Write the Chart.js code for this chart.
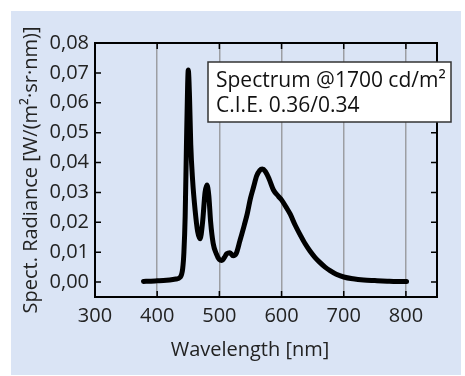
<!DOCTYPE html>
<html>
<head>
<meta charset="utf-8">
<script src="https://cdn.jsdelivr.net/npm/chart.js@4/dist/chart.umd.min.js"></script>
<style>
  html, body { margin: 0; padding: 0; background: #fff; }
  #wrap { width: 465px; height: 376px; }
</style>
</head>
<body>
<div id="wrap"><canvas id="spectrum"></canvas></div>
<script>
// wavelength [nm] and spectral radiance [W/(m²·sr·nm)]
const wavelengths = [378, 390, 400, 410, 420, 430, 437, 441, 443, 445, 447, 449, 450, 452, 454, 457, 461, 465, 469,
  473, 477, 480, 483, 486, 490, 495, 500, 504, 508, 512, 517, 522, 527, 533, 540, 545, 550, 555, 560, 565, 569,
  574, 580, 587, 595, 600, 607, 614, 622, 630, 638, 646, 654, 662, 670, 678, 688, 700, 715, 732, 750, 770, 785, 801];
const radiance = [0.0002, 0.0003, 0.0004, 0.0005, 0.0007, 0.0010, 0.0016, 0.0045, 0.010, 0.022, 0.045, 0.066, 0.071, 0.062, 0.046, 0.034, 0.024, 0.017, 0.0145,
  0.020, 0.030, 0.0325, 0.029, 0.020, 0.013, 0.0095, 0.0075, 0.0072, 0.0082, 0.0095, 0.0098, 0.0088, 0.0095, 0.0138, 0.019, 0.023, 0.028, 0.0318, 0.0355, 0.0374, 0.0378,
  0.0370, 0.0345, 0.0308, 0.0287, 0.0275, 0.0252, 0.0227, 0.019, 0.0158, 0.0128, 0.0103, 0.0082, 0.0065, 0.005, 0.0038, 0.0026, 0.0017, 0.0011, 0.0007, 0.0005, 0.0003, 0.0002, 0.0002];

const xTitle = 'Wavelength [nm]';
const yTitle = 'Spect. Radiance [W/(m²·sr·nm)]';
const noteLines = ['Spectrum @1700 cd/m²', 'C.I.E. 0.36/0.34'];

const FONT = "'Open Sans', 'Noto Sans', sans-serif";
const TEXT = '#222';
const isMajor = v => Math.abs(Math.round(v * 100) - v * 100) < 1e-6;

// panel background, frame, inward ticks, axis titles and the note box
const decor = {
  id: 'decor',
  beforeDraw(chart) {
    const c = chart.ctx;
    c.save();
    c.fillStyle = '#fff';
    c.fillRect(0, 0, chart.width, chart.height);
    c.fillStyle = '#dae4f5';
    c.fillRect(11, 11, 450, 364);
    c.restore();
  },
  afterDraw(chart) {
    const c = chart.ctx;
    const a = chart.chartArea;
    const xs = chart.scales.x, ys = chart.scales.y;
    c.save();
    c.strokeStyle = '#000';
    c.lineWidth = 2;
    c.strokeRect(a.left, a.top, a.right - a.left, a.bottom - a.top);

    c.lineWidth = 1.5;
    c.beginPath();
    ys.ticks.forEach(t => {
      const y = ys.getPixelForValue(t.value);
      const len = isMajor(t.value) ? 6 : 3.5;
      c.moveTo(a.left, y); c.lineTo(a.left + len, y);
      c.moveTo(a.right, y); c.lineTo(a.right - len, y);
    });
    xs.ticks.forEach(t => {
      const x = xs.getPixelForValue(t.value);
      c.moveTo(x, a.bottom); c.lineTo(x, a.bottom - 6);
      c.moveTo(x, a.top); c.lineTo(x, a.top + 6);
    });
    c.stroke();

    c.fillStyle = TEXT;
    c.font = '20px ' + FONT;
    c.textAlign = 'center';
    c.textBaseline = 'middle';
    c.fillText(xTitle, 250, 350);
    c.save();
    c.translate(31, (a.top + a.bottom) / 2);
    c.rotate(-Math.PI / 2);
    c.fillText(yTitle, 0, 0);
    c.restore();

    c.fillStyle = '#fff';
    c.fillRect(208, 62, 243, 60);
    c.strokeStyle = '#333';
    c.lineWidth = 1.5;
    c.strokeRect(208, 62, 243, 60);
    c.fillStyle = '#111';
    c.font = '21px ' + FONT;
    c.textAlign = 'left';
    c.textBaseline = 'alphabetic';
    c.fillText(noteLines[0], 216, 87);
    c.fillText(noteLines[1], 216, 112);
    c.restore();
  }
};

new Chart(document.getElementById('spectrum'), {
  type: 'line',
  data: {
    labels: wavelengths,
    datasets: [{
      data: wavelengths.map((w, i) => ({ x: w, y: radiance[i] })),
      borderColor: '#000',
      borderWidth: 5,
      pointRadius: 0,
      borderJoinStyle: 'round',
      borderCapStyle: 'round',
      cubicInterpolationMode: 'monotone',
      fill: false
    }]
  },
  options: {
    responsive: true,
    maintainAspectRatio: false,
    animation: false,
    layout: { padding: { top: 43, right: 28, left: 0, bottom: 0 } },
    plugins: { legend: { display: false }, tooltip: { enabled: false } },
    scales: {
      x: {
        type: 'linear',
        min: 300,
        max: 850,
        afterFit: s => { s.height = 79; },
        ticks: {
          stepSize: 50,
          padding: 7,
          maxRotation: 0,
          autoSkip: false,
          color: TEXT,
          font: { family: FONT, size: 20 },
          callback: v => (v % 100 === 0 && v < 850) ? String(v) : null
        },
        grid: {
          drawTicks: false,
          lineWidth: 1.5,
          color: ctx => (ctx.tick && (ctx.tick.value === 300 || ctx.tick.value === 850)) ? 'rgba(0,0,0,0)' : '#9c9ea3'
        },
        border: { display: false }
      },
      y: {
        min: -0.005,
        max: 0.08,
        afterFit: s => { s.width = 95; },
        ticks: {
          stepSize: 0.005,
          padding: 6,
          autoSkip: false,
          color: TEXT,
          font: { family: FONT, size: 20 },
          callback: v => isMajor(v) && v >= 0 ? v.toFixed(2).replace('.', ',') : null
        },
        grid: { display: false, drawTicks: false },
        border: { display: false }
      }
    }
  },
  plugins: [decor]
});
</script>
</body>
</html>
